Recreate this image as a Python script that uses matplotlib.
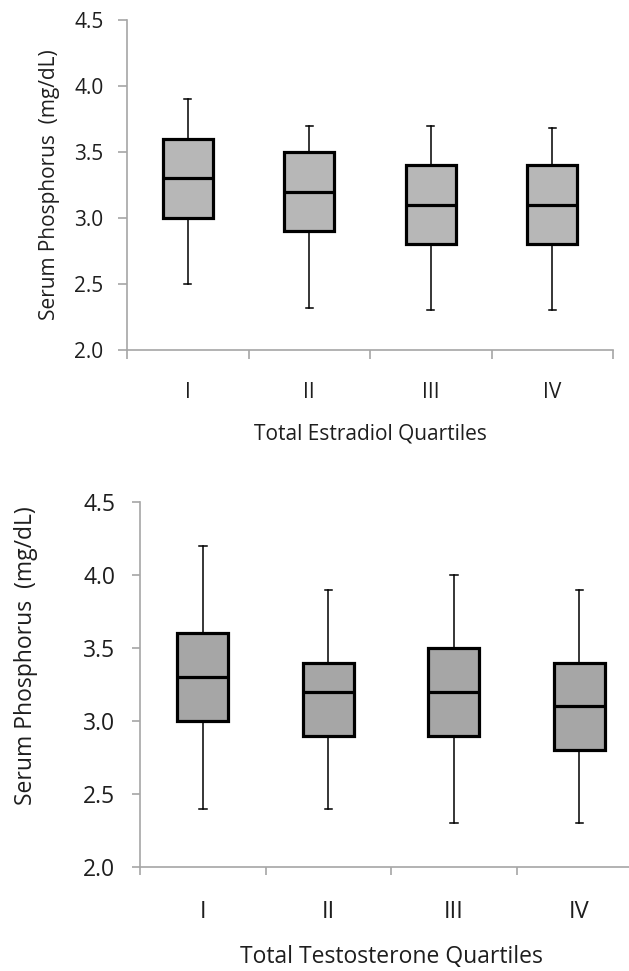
import matplotlib
matplotlib.use('Agg')
import matplotlib.pyplot as plt

plt.rcParams['font.family'] = ['Open Sans', 'DejaVu Sans']

quartiles = ['I', 'II', 'III', 'IV']

# 총 에스트라디올 사분위
e2_whislo = [2.5, 2.32, 2.3, 2.3]
e2_q1 = [3.0, 2.9, 2.8, 2.8]
e2_med = [3.3, 3.2, 3.1, 3.1]
e2_q3 = [3.6, 3.5, 3.4, 3.4]
e2_whishi = [3.9, 3.7, 3.7, 3.68]

# 총 테스토스테론 사분위
t_whislo = [2.4, 2.4, 2.3, 2.3]
t_q1 = [3.0, 2.9, 2.9, 2.8]
t_med = [3.3, 3.2, 3.2, 3.1]
t_q3 = [3.6, 3.4, 3.5, 3.4]
t_whishi = [4.2, 3.9, 4.0, 3.9]

yticks = [2.0, 2.5, 3.0, 3.5, 4.0, 4.5]
axis_grey = '#a6a6a6'
text_col = '#1e1e1e'


def make_stats(lo, q1, med, q3, hi):
    return [dict(whislo=a, q1=b, med=c, q3=d, whishi=e, fliers=[])
            for a, b, c, d, e in zip(lo, q1, med, q3, hi)]


def draw_panel(ax, stats, face, xlabel, tick_fs, cat_fs, lab_fs,
               tick_len, tick_pad, ypad, xpad, xlabpad):
    ax.bxp(stats, positions=range(1, len(stats) + 1), widths=0.41,
           patch_artist=True, showfliers=False,
           boxprops=dict(facecolor=face, edgecolor='black', linewidth=2.3),
           medianprops=dict(color='black', linewidth=2.3),
           whiskerprops=dict(color='black', linewidth=1.1),
           capprops=dict(color='black', linewidth=1.1),
           capwidths=0.06)
    ax.set_xlim(0.5, len(stats) + 0.5)
    ax.set_ylim(2.0, 4.5)
    ax.set_yticks(yticks)
    ax.set_yticklabels([f'{v:.1f}' for v in yticks], fontsize=tick_fs, color=text_col)
    ax.set_xticks(range(1, len(stats) + 1))
    ax.set_xticklabels(quartiles, fontsize=cat_fs, color=text_col)
    ax.set_xticks([i + 0.5 for i in range(len(stats) + 1)], minor=True)
    ax.tick_params(axis='x', which='major', length=0, pad=xpad)
    ax.tick_params(axis='x', which='minor', length=tick_len, color=axis_grey, width=1.2)
    ax.tick_params(axis='y', length=tick_len, color=axis_grey, width=1.2, pad=tick_pad)
    for s in ['top', 'right']:
        ax.spines[s].set_visible(False)
    for s in ['left', 'bottom']:
        ax.spines[s].set_color(axis_grey)
        ax.spines[s].set_linewidth(1.2)
    ax.set_ylabel('Serum Phosphorus  (mg/dL)', fontsize=lab_fs, color=text_col, labelpad=ypad)
    ax.set_xlabel(xlabel, fontsize=lab_fs, color=text_col, labelpad=xlabpad)
    ax.grid(False)


fig = plt.figure(figsize=(6.29, 9.71), dpi=100)
ax1 = fig.add_axes([0.2019, 0.6395, 0.7727, 0.3399])
ax2 = fig.add_axes([0.2226, 0.1071, 0.7981, 0.3759])

draw_panel(ax1, make_stats(e2_whislo, e2_q1, e2_med, e2_q3, e2_whishi), '#b7b7b7',
           'Total Estradiol Quartiles', 15, 15, 15, 6.5, 10.5, 10, 23, 15)
draw_panel(ax2, make_stats(t_whislo, t_q1, t_med, t_q3, t_whishi), '#a6a6a6',
           'Total Testosterone Quartiles', 16.5, 17, 16.5, 6, 12, 34, 23.5, 15.5)

# 아래 패널의 y축 제목은 축 중앙보다 약간 위에 있음
ax2.yaxis.set_label_coords(-0.203, 0.578)

fig.savefig('out.png', dpi=100, facecolor='white')
